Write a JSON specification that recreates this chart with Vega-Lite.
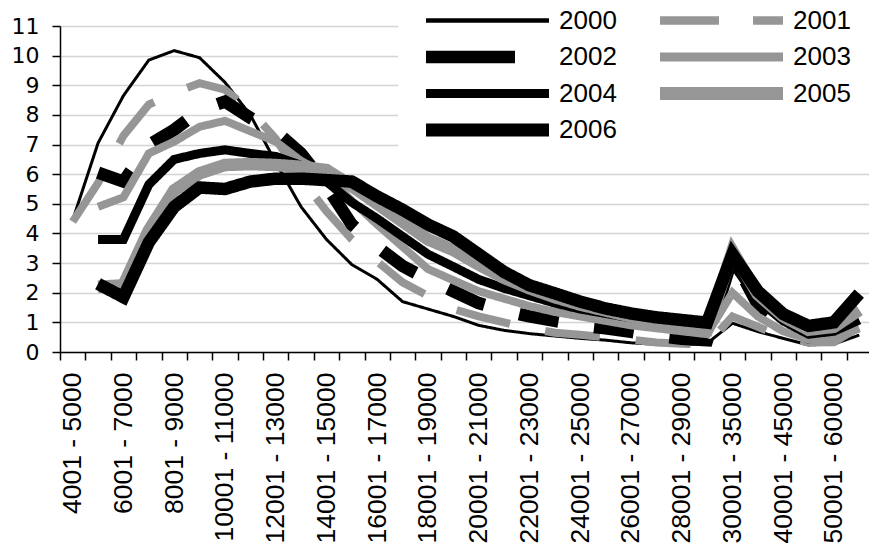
{
"$schema": "https://vega.github.io/schema/vega-lite/v6.json",
"width": 809, "height": 326,
"autosize": "none",
"padding": {"left": 60, "top": 26, "right": 0, "bottom": 194},
"background": "white",
"data": {"values": [
{"band":"4001 - 5000","year":"2000","value":4.45},{"band":"5001 - 6000","year":"2000","value":7.05},{"band":"6001 - 7000","year":"2000","value":8.65},{"band":"7001 - 8000","year":"2000","value":9.85},{"band":"8001 - 9000","year":"2000","value":10.17},{"band":"9001 - 10000","year":"2000","value":9.93},{"band":"10001 - 11000","year":"2000","value":9.1},{"band":"11001 - 12000","year":"2000","value":8.0},{"band":"12001 - 13000","year":"2000","value":6.4},{"band":"13001 - 14000","year":"2000","value":4.9},{"band":"14001 - 15000","year":"2000","value":3.8},{"band":"15001 - 16000","year":"2000","value":2.95},{"band":"16001 - 17000","year":"2000","value":2.45},{"band":"17001 - 18000","year":"2000","value":1.7},{"band":"18001 - 19000","year":"2000","value":1.45},{"band":"19001 - 20000","year":"2000","value":1.2},{"band":"20001 - 21000","year":"2000","value":0.9},{"band":"21001 - 22000","year":"2000","value":0.73},{"band":"22001 - 23000","year":"2000","value":0.62},{"band":"23001 - 24000","year":"2000","value":0.54},{"band":"24001 - 25000","year":"2000","value":0.46},{"band":"25001 - 26000","year":"2000","value":0.4},{"band":"26001 - 27000","year":"2000","value":0.31},{"band":"27001 - 28000","year":"2000","value":0.26},{"band":"28001 - 29000","year":"2000","value":0.25},{"band":"29001 - 30000","year":"2000","value":0.29},{"band":"30001 - 35000","year":"2000","value":0.97},{"band":"35001 - 40000","year":"2000","value":0.69},{"band":"40001 - 45000","year":"2000","value":0.46},{"band":"45001 - 50000","year":"2000","value":0.24},{"band":"50001 - 60000","year":"2000","value":0.27},{"band":"60001 +","year":"2000","value":0.57},
{"band":"4001 - 5000","year":"2001","value":4.4},{"band":"5001 - 6000","year":"2001","value":5.7},{"band":"6001 - 7000","year":"2001","value":7.3},{"band":"7001 - 8000","year":"2001","value":8.35},{"band":"8001 - 9000","year":"2001","value":8.75},{"band":"9001 - 10000","year":"2001","value":9.07},{"band":"10001 - 11000","year":"2001","value":8.85},{"band":"11001 - 12000","year":"2001","value":8.15},{"band":"12001 - 13000","year":"2001","value":7.2},{"band":"13001 - 14000","year":"2001","value":5.85},{"band":"14001 - 15000","year":"2001","value":4.75},{"band":"15001 - 16000","year":"2001","value":3.8},{"band":"16001 - 17000","year":"2001","value":3.05},{"band":"17001 - 18000","year":"2001","value":2.35},{"band":"18001 - 19000","year":"2001","value":1.9},{"band":"19001 - 20000","year":"2001","value":1.45},{"band":"20001 - 21000","year":"2001","value":1.2},{"band":"21001 - 22000","year":"2001","value":1.0},{"band":"22001 - 23000","year":"2001","value":0.8},{"band":"23001 - 24000","year":"2001","value":0.65},{"band":"24001 - 25000","year":"2001","value":0.58},{"band":"25001 - 26000","year":"2001","value":0.5},{"band":"26001 - 27000","year":"2001","value":0.42},{"band":"27001 - 28000","year":"2001","value":0.32},{"band":"28001 - 29000","year":"2001","value":0.28},{"band":"29001 - 30000","year":"2001","value":0.25},{"band":"30001 - 35000","year":"2001","value":1.2},{"band":"35001 - 40000","year":"2001","value":0.85},{"band":"40001 - 45000","year":"2001","value":0.5},{"band":"45001 - 50000","year":"2001","value":0.32},{"band":"50001 - 60000","year":"2001","value":0.33},{"band":"60001 +","year":"2001","value":0.85},
{"band":"5001 - 6000","year":"2002","value":6.05},{"band":"6001 - 7000","year":"2002","value":5.75},{"band":"7001 - 8000","year":"2002","value":6.98},{"band":"8001 - 9000","year":"2002","value":7.5},{"band":"9001 - 10000","year":"2002","value":8.15},{"band":"10001 - 11000","year":"2002","value":8.45},{"band":"11001 - 12000","year":"2002","value":7.9},{"band":"12001 - 13000","year":"2002","value":7.45},{"band":"13001 - 14000","year":"2002","value":6.7},{"band":"14001 - 15000","year":"2002","value":5.6},{"band":"15001 - 16000","year":"2002","value":4.3},{"band":"16001 - 17000","year":"2002","value":3.55},{"band":"17001 - 18000","year":"2002","value":2.9},{"band":"18001 - 19000","year":"2002","value":2.45},{"band":"19001 - 20000","year":"2002","value":2.05},{"band":"20001 - 21000","year":"2002","value":1.65},{"band":"21001 - 22000","year":"2002","value":1.4},{"band":"22001 - 23000","year":"2002","value":1.2},{"band":"23001 - 24000","year":"2002","value":1.05},{"band":"24001 - 25000","year":"2002","value":0.9},{"band":"25001 - 26000","year":"2002","value":0.8},{"band":"26001 - 27000","year":"2002","value":0.68},{"band":"27001 - 28000","year":"2002","value":0.55},{"band":"28001 - 29000","year":"2002","value":0.45},{"band":"29001 - 30000","year":"2002","value":0.4},{"band":"30001 - 35000","year":"2002","value":3.2},{"band":"35001 - 40000","year":"2002","value":1.6},{"band":"40001 - 45000","year":"2002","value":0.95},{"band":"45001 - 50000","year":"2002","value":0.5},{"band":"50001 - 60000","year":"2002","value":0.6},{"band":"60001 +","year":"2002","value":1.05},
{"band":"5001 - 6000","year":"2003","value":4.9},{"band":"6001 - 7000","year":"2003","value":5.22},{"band":"7001 - 8000","year":"2003","value":6.7},{"band":"8001 - 9000","year":"2003","value":7.1},{"band":"9001 - 10000","year":"2003","value":7.6},{"band":"10001 - 11000","year":"2003","value":7.8},{"band":"11001 - 12000","year":"2003","value":7.45},{"band":"12001 - 13000","year":"2003","value":7.1},{"band":"13001 - 14000","year":"2003","value":6.45},{"band":"14001 - 15000","year":"2003","value":6.0},{"band":"15001 - 16000","year":"2003","value":5.1},{"band":"16001 - 17000","year":"2003","value":4.3},{"band":"17001 - 18000","year":"2003","value":3.55},{"band":"18001 - 19000","year":"2003","value":2.8},{"band":"19001 - 20000","year":"2003","value":2.42},{"band":"20001 - 21000","year":"2003","value":2.05},{"band":"21001 - 22000","year":"2003","value":1.8},{"band":"22001 - 23000","year":"2003","value":1.55},{"band":"23001 - 24000","year":"2003","value":1.35},{"band":"24001 - 25000","year":"2003","value":1.2},{"band":"25001 - 26000","year":"2003","value":1.05},{"band":"26001 - 27000","year":"2003","value":0.9},{"band":"27001 - 28000","year":"2003","value":0.8},{"band":"28001 - 29000","year":"2003","value":0.7},{"band":"29001 - 30000","year":"2003","value":0.6},{"band":"30001 - 35000","year":"2003","value":2.0},{"band":"35001 - 40000","year":"2003","value":1.2},{"band":"40001 - 45000","year":"2003","value":0.7},{"band":"45001 - 50000","year":"2003","value":0.42},{"band":"50001 - 60000","year":"2003","value":0.45},{"band":"60001 +","year":"2003","value":0.8},
{"band":"5001 - 6000","year":"2004","value":3.8},{"band":"6001 - 7000","year":"2004","value":3.8},{"band":"7001 - 8000","year":"2004","value":5.65},{"band":"8001 - 9000","year":"2004","value":6.5},{"band":"9001 - 10000","year":"2004","value":6.7},{"band":"10001 - 11000","year":"2004","value":6.82},{"band":"11001 - 12000","year":"2004","value":6.7},{"band":"12001 - 13000","year":"2004","value":6.6},{"band":"13001 - 14000","year":"2004","value":6.3},{"band":"14001 - 15000","year":"2004","value":5.75},{"band":"15001 - 16000","year":"2004","value":5.05},{"band":"16001 - 17000","year":"2004","value":4.5},{"band":"17001 - 18000","year":"2004","value":3.9},{"band":"18001 - 19000","year":"2004","value":3.3},{"band":"19001 - 20000","year":"2004","value":2.88},{"band":"20001 - 21000","year":"2004","value":2.45},{"band":"21001 - 22000","year":"2004","value":2.15},{"band":"22001 - 23000","year":"2004","value":1.9},{"band":"23001 - 24000","year":"2004","value":1.65},{"band":"24001 - 25000","year":"2004","value":1.45},{"band":"25001 - 26000","year":"2004","value":1.3},{"band":"26001 - 27000","year":"2004","value":1.15},{"band":"27001 - 28000","year":"2004","value":1.0},{"band":"28001 - 29000","year":"2004","value":0.9},{"band":"29001 - 30000","year":"2004","value":0.8},{"band":"30001 - 35000","year":"2004","value":3.0},{"band":"35001 - 40000","year":"2004","value":1.75},{"band":"40001 - 45000","year":"2004","value":1.05},{"band":"45001 - 50000","year":"2004","value":0.6},{"band":"50001 - 60000","year":"2004","value":0.7},{"band":"60001 +","year":"2004","value":1.08},
{"band":"5001 - 6000","year":"2005","value":2.2},{"band":"6001 - 7000","year":"2005","value":2.25},{"band":"7001 - 8000","year":"2005","value":4.1},{"band":"8001 - 9000","year":"2005","value":5.45},{"band":"9001 - 10000","year":"2005","value":6.03},{"band":"10001 - 11000","year":"2005","value":6.31},{"band":"11001 - 12000","year":"2005","value":6.34},{"band":"12001 - 13000","year":"2005","value":6.31},{"band":"13001 - 14000","year":"2005","value":6.25},{"band":"14001 - 15000","year":"2005","value":6.14},{"band":"15001 - 16000","year":"2005","value":5.6},{"band":"16001 - 17000","year":"2005","value":5.0},{"band":"17001 - 18000","year":"2005","value":4.4},{"band":"18001 - 19000","year":"2005","value":3.8},{"band":"19001 - 20000","year":"2005","value":3.44},{"band":"20001 - 21000","year":"2005","value":2.95},{"band":"21001 - 22000","year":"2005","value":2.5},{"band":"22001 - 23000","year":"2005","value":2.15},{"band":"23001 - 24000","year":"2005","value":1.85},{"band":"24001 - 25000","year":"2005","value":1.6},{"band":"25001 - 26000","year":"2005","value":1.4},{"band":"26001 - 27000","year":"2005","value":1.2},{"band":"27001 - 28000","year":"2005","value":1.0},{"band":"28001 - 29000","year":"2005","value":0.9},{"band":"29001 - 30000","year":"2005","value":0.75},{"band":"30001 - 35000","year":"2005","value":3.4},{"band":"35001 - 40000","year":"2005","value":1.95},{"band":"40001 - 45000","year":"2005","value":1.2},{"band":"45001 - 50000","year":"2005","value":0.75},{"band":"50001 - 60000","year":"2005","value":0.85},{"band":"60001 +","year":"2005","value":1.42},
{"band":"5001 - 6000","year":"2006","value":2.3},{"band":"6001 - 7000","year":"2006","value":1.85},{"band":"7001 - 8000","year":"2006","value":3.7},{"band":"8001 - 9000","year":"2006","value":4.9},{"band":"9001 - 10000","year":"2006","value":5.55},{"band":"10001 - 11000","year":"2006","value":5.5},{"band":"11001 - 12000","year":"2006","value":5.75},{"band":"12001 - 13000","year":"2006","value":5.85},{"band":"13001 - 14000","year":"2006","value":5.85},{"band":"14001 - 15000","year":"2006","value":5.8},{"band":"15001 - 16000","year":"2006","value":5.75},{"band":"16001 - 17000","year":"2006","value":5.25},{"band":"17001 - 18000","year":"2006","value":4.8},{"band":"18001 - 19000","year":"2006","value":4.3},{"band":"19001 - 20000","year":"2006","value":3.9},{"band":"20001 - 21000","year":"2006","value":3.3},{"band":"21001 - 22000","year":"2006","value":2.7},{"band":"22001 - 23000","year":"2006","value":2.25},{"band":"23001 - 24000","year":"2006","value":1.98},{"band":"24001 - 25000","year":"2006","value":1.7},{"band":"25001 - 26000","year":"2006","value":1.47},{"band":"26001 - 27000","year":"2006","value":1.3},{"band":"27001 - 28000","year":"2006","value":1.17},{"band":"28001 - 29000","year":"2006","value":1.08},{"band":"29001 - 30000","year":"2006","value":0.99},{"band":"30001 - 35000","year":"2006","value":3.3},{"band":"35001 - 40000","year":"2006","value":2.05},{"band":"40001 - 45000","year":"2006","value":1.28},{"band":"45001 - 50000","year":"2006","value":0.88},{"band":"50001 - 60000","year":"2006","value":1.0},{"band":"60001 +","year":"2006","value":1.97}
]},
"mark": {"type": "line", "strokeCap": "butt", "strokeJoin": "miter"},
"encoding": {
  "x": {"field": "band", "type": "nominal",
    "scale": {"type": "band", "domain": ["4001 - 5000","5001 - 6000","6001 - 7000","7001 - 8000","8001 - 9000","9001 - 10000","10001 - 11000","11001 - 12000","12001 - 13000","13001 - 14000","14001 - 15000","15001 - 16000","16001 - 17000","17001 - 18000","18001 - 19000","19001 - 20000","20001 - 21000","21001 - 22000","22001 - 23000","23001 - 24000","24001 - 25000","25001 - 26000","26001 - 27000","27001 - 28000","28001 - 29000","29001 - 30000","30001 - 35000","35001 - 40000","40001 - 45000","45001 - 50000","50001 - 60000","60001 +"], "range": [0, 812], "paddingInner": 0, "paddingOuter": 0},
    "axis": {"title": null, "tickBand": "extent", "labelAngle": 270, "labelOverlap": false, "labelBound": false, "labelFlush": false, "labelLimit": 400,
      "labelExpr": "indexof(['4001 - 5000','6001 - 7000','8001 - 9000','10001 - 11000','12001 - 13000','14001 - 15000','16001 - 17000','18001 - 19000','20001 - 21000','22001 - 23000','24001 - 25000','26001 - 27000','28001 - 29000','30001 - 35000','40001 - 45000','50001 - 60000'], datum.value) >= 0 ? datum.value : ''",
      "labelFont": "Liberation Sans", "labelFontSize": 26.5, "labelColor": "#000000", "labelPadding": 12,
      "tickSize": 8, "tickColor": "#000000", "tickWidth": 1.5, "domainColor": "#000000", "domainWidth": 1.5, "grid": false}},
  "y": {"field": "value", "type": "quantitative",
    "scale": {"domain": [0, 11], "nice": false},
    "axis": {"title": null, "values": [0,1,2,3,4,5,6,7,8,9,10,11], "grid": true, "gridColor": "#d4d4d4", "gridWidth": 1.5,
      "tickSize": 8, "tickColor": "#000000", "tickWidth": 1.5, "domainColor": "#000000", "domainWidth": 1.5,
      "labelFont": "DejaVu Sans", "labelFontSize": 22, "labelColor": "#000000", "labelPadding": 13}},
  "color": {"field": "year", "type": "nominal",
    "scale": {"domain": ["2000","2001","2002","2003","2004","2005","2006"], "range": ["#000000","#969696","#000000","#969696","#000000","#969696","#000000"]},
    "legend": {"title": null, "orient": "none", "direction": "horizontal", "legendX": 338, "legendY": -47.5, "columns": 2, "padding": 28, "fillColor": "#ffffff",
      "symbolType": "stroke", "symbolSize": 15376, "symbolOffset": 48, "clipHeight": 28, "rowPadding": 8.5, "columnPadding": 43,
      "labelFont": "Liberation Sans", "labelFontSize": 26, "labelColor": "#000000", "labelOffset": 59, "labelLimit": 300,
      "encode": {"symbols": {"update": {
        "strokeWidth": {"signal": "datum.value == '2000' ? 4.5 : datum.value == '2001' ? 8.5 : datum.value == '2002' ? 12.5 : datum.value == '2003' ? 9 : datum.value == '2004' ? 9 : 13"},
        "strokeDash": {"signal": "datum.value == '2001' ? [60, 34] : datum.value == '2002' ? [90, 40] : [1, 0]"}}}}}},
  "strokeWidth": {"condition": [{"test": "datum.year == '2000'", "value": 3}, {"test": "datum.year == '2001'", "value": 8}, {"test": "datum.year == '2003'", "value": 8}, {"test": "datum.year == '2004'", "value": 9}], "value": 12.5},
  "strokeDash": {"condition": [{"test": "datum.year == '2001'", "value": [55, 36]}, {"test": "datum.year == '2002'", "value": [40, 36]}], "value": [1, 0]}
},
"config": {"view": {"stroke": null}}
}
